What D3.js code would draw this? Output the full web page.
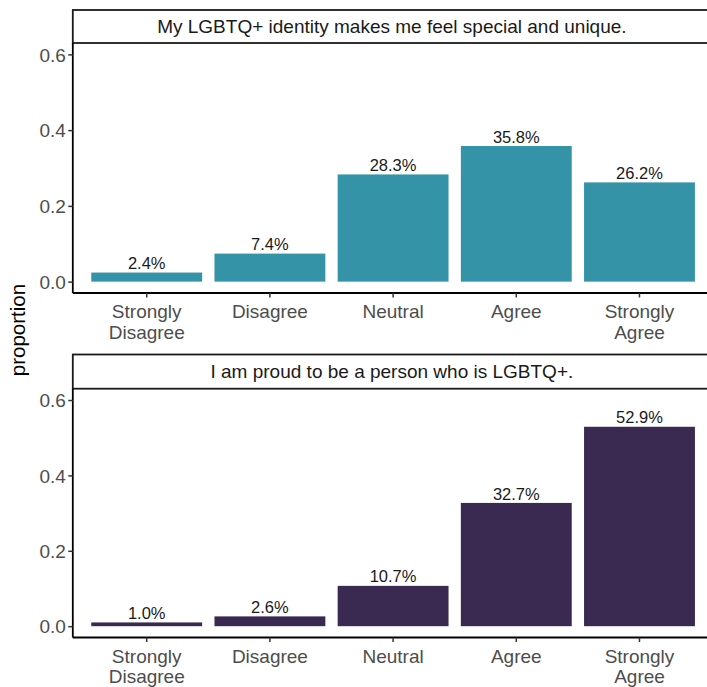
<!DOCTYPE html>
<html><head><meta charset="utf-8">
<script src="https://cdn.jsdelivr.net/npm/d3@7"></script>
<style>body{margin:0;background:#fff}svg{display:block}</style>
</head><body>
<svg id="c" width="707" height="687"></svg>
<script>
const categories = ["Strongly\nDisagree", "Disagree", "Neutral", "Agree", "Strongly\nAgree"];
const titles = ["My LGBTQ+ identity makes me feel special and unique.", "I am proud to be a person who is LGBTQ+."];
const specialValues = [0.024, 0.074, 0.283, 0.358, 0.262];
const proudValues = [0.010, 0.026, 0.107, 0.327, 0.529];
const seriesValues = [specialValues, proudValues];
const seriesColors = ["#3493a7", "#3a2a51"];
const yTicks = [0.0, 0.2, 0.4, 0.6];
const yLabel = "proportion";

const svg = d3.select("#c");
const font = "'Liberation Sans', Arial, sans-serif";
const left = 72.8, right = 713.4;
const panels = [{stripTop: 10, top: 43, bottom: 293}, {stripTop: 354.5, top: 388.7, bottom: 637.5}];

const x = d3.scaleBand().domain(categories).range([left, right]).paddingInner(0.1).paddingOuter(0.15);

panels.forEach((p, i) => {
  const y = d3.scaleLinear().domain([-0.03, 0.63]).range([p.bottom, p.top]);
  const g = svg.append("g");
  // strip
  g.append("rect").attr("x", left).attr("y", p.stripTop).attr("width", right - left + 10).attr("height", p.top - p.stripTop)
    .attr("fill", "#fff").attr("stroke", "#1a1a1a").attr("stroke-width", 1.8);
  g.append("text").attr("x", (left + 707) / 2 + 2).attr("y", (p.stripTop + p.top) / 2 + 6.8)
    .attr("text-anchor", "middle").attr("font-family", font).attr("font-size", 19).attr("fill", "#1a1a1a")
    .text(titles[i]);
  // bars
  g.selectAll("rect.bar").data(seriesValues[i]).join("rect").attr("class", "bar")
    .attr("x", (d, j) => x(categories[j])).attr("width", x.bandwidth())
    .attr("y", d => y(d)).attr("height", d => y(0) - y(d))
    .attr("fill", seriesColors[i]);
  g.selectAll("text.val").data(seriesValues[i]).join("text").attr("class", "val")
    .attr("x", (d, j) => x(categories[j]) + x.bandwidth() / 2).attr("y", d => y(d) - 3.4)
    .attr("text-anchor", "middle").attr("font-family", font).attr("font-size", 16.5).attr("fill", "#1a1a1a")
    .text(d => (d * 100).toFixed(1) + "%");
  // y axis
  const ya = g.append("g").attr("transform", `translate(${left},0)`)
    .call(d3.axisLeft(y).tickValues(yTicks).tickFormat(d3.format(".1f")).tickSize(4.5).tickPadding(2.5));
  ya.select(".domain").attr("d", `M0,${p.top}V${p.bottom}`).attr("stroke", "#000").attr("stroke-width", 1.8);
  ya.selectAll(".tick line").attr("stroke", "#333").attr("stroke-width", 1.5);
  ya.selectAll(".tick text").attr("font-family", font).attr("font-size", 19).attr("fill", "#4d4d4d").attr("dy", "0.35em");
  // x axis
  const xa = g.append("g").attr("transform", `translate(0,${p.bottom})`)
    .call(d3.axisBottom(x).tickSize(4.5).tickPadding(2).tickFormat(""));
  xa.select(".domain").attr("d", `M${left},0H707`).attr("stroke", "#000").attr("stroke-width", 1.8);
  xa.selectAll(".tick line").attr("stroke", "#333").attr("stroke-width", 1.5);
  xa.selectAll(".tick").each(function(d) {
    const t = d3.select(this).select("text").attr("font-family", font).attr("font-size", 19).attr("fill", "#4d4d4d")
      .attr("y", 0).attr("dy", null);
    d.split("\n").forEach((line, k) => {
      t.append("tspan").attr("x", 0).attr("y", 25.4 + k * 20.3).text(line);
    });
  });
});

svg.append("text").attr("transform", "translate(25,330) rotate(-90)").attr("text-anchor", "middle")
  .attr("font-family", font).attr("font-size", 20.5).attr("fill", "#000").text(yLabel);
</script>
</body></html>
